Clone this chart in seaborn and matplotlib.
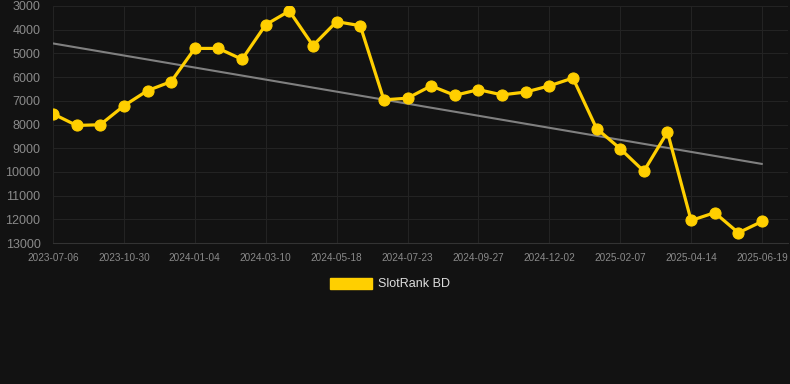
import numpy as np
import matplotlib
matplotlib.use("Agg")
import matplotlib.pyplot as plt
from matplotlib.patches import Patch
import seaborn as sns

# rank values, one point per period (evenly spaced categories)
ranks = [7550, 8040, 8010, 7210, 6570, 6190, 4790, 4790, 5250, 3790,
         3210, 4670, 3660, 3830, 6960, 6890, 6370, 6770, 6530, 6750,
         6630, 6370, 6040, 8170, 9020, 9970, 8320, 12050, 11720, 12570,
         12090]
tick_labels = ["2023-07-06", "2023-10-30", "2024-01-04", "2024-03-10",
               "2024-05-18", "2024-07-23", "2024-09-27", "2024-12-02",
               "2025-02-07", "2025-04-14", "2025-06-19"]
y_ticks = [3000, 4000, 5000, 6000, 7000, 8000, 9000, 10000, 11000, 12000, 13000]

bg = "#121212"
gold = "#FFCF00"
grid_c = "#232323"

sns.set_style("dark", {"axes.facecolor": bg, "figure.facecolor": bg})
plt.rcParams["font.family"] = ["Liberation Sans", "DejaVu Sans"]

idx = np.arange(len(ranks))

fig = plt.figure(figsize=(7.9, 3.84), dpi=100)
ax = fig.add_axes([53 / 790, 1 - 243 / 384, (788 - 53) / 790, (243 - 6) / 384])

# trend line (least squares fit)
k, b = np.polyfit(idx, ranks, 1)
ax.plot(idx, k * idx + b, color="#808080", lw=1.5, zorder=2)

sns.lineplot(x=idx, y=ranks, ax=ax, color=gold, lw=2.3, marker="o",
             markersize=8, markeredgecolor=gold, zorder=3)

ax.set_xlim(0, 31.1)
ax.set_ylim(13000, 3000)
ax.set_xticks(idx[::3])
ax.set_xticklabels(tick_labels)
ax.set_yticks(y_ticks)
ax.tick_params(axis="y", colors=grid_c, labelcolor="#8a8a8a", labelsize=9,
               length=7, width=0.8, pad=2)
ax.tick_params(axis="x", colors="#333333", labelcolor="#8a8a8a", labelsize=7.2,
               length=4, pad=3)
ax.grid(True, color=grid_c, lw=0.8)
for s in ["top", "right", "left"]:
    ax.spines[s].set_visible(False)
ax.spines["bottom"].set_color("#333333")
ax.set_xlabel("")
ax.set_ylabel("")

fig.legend(handles=[Patch(facecolor=gold, edgecolor=gold, label="SlotRank BD")],
           loc="center", bbox_to_anchor=(390 / 790, 1 - 284 / 384),
           frameon=False, labelcolor="#dddddd", fontsize=9,
           handlelength=3.3, handleheight=1.0, handletextpad=0.5)

fig.savefig("out.png", dpi=100, facecolor=bg)
